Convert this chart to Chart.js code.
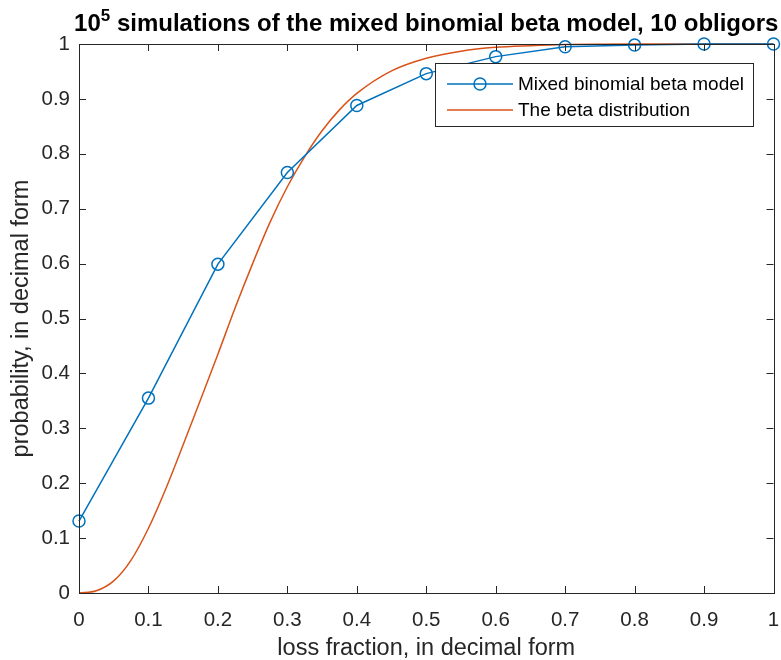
<!DOCTYPE html>
<html>
<head>
<meta charset="utf-8">
<script src="https://cdn.jsdelivr.net/npm/chart.js@4.4.1/dist/chart.umd.min.js"></script>
<style>
  html, body { margin: 0; padding: 0; background: #fff; }
  #wrap { width: 781px; height: 660px; }
</style>
</head>
<body>
<div id="wrap"><canvas id="lossChart" width="781" height="660"></canvas></div>
<script>
// Simulated loss distribution
const lossFraction = [0, 0.1, 0.2, 0.3, 0.4, 0.5, 0.6, 0.7, 0.8, 0.9, 1];
const mixedModel = [0.131, 0.355, 0.599, 0.766, 0.888, 0.946, 0.977, 0.995, 0.998, 1.0, 1.0];

// Beta distribution curve, sampled from the figure
const betaX = [0, 0.025, 0.05, 0.075, 0.1, 0.125, 0.15, 0.175, 0.2, 0.225, 0.25, 0.275, 0.3,
    0.325, 0.35, 0.375, 0.4, 0.45, 0.5, 0.55, 0.6, 0.65, 0.7, 0.8, 0.9, 1];
const betaCdf = [0, 0.004, 0.022, 0.06, 0.118, 0.19, 0.27, 0.352, 0.435, 0.52, 0.6, 0.675, 0.74,
    0.795, 0.842, 0.88, 0.91, 0.951, 0.974, 0.987, 0.994, 0.997, 0.999, 1.0, 1.0, 1.0];

const xTicks = [0, 0.1, 0.2, 0.3, 0.4, 0.5, 0.6, 0.7, 0.8, 0.9, 1];
const yTicks = [0, 0.1, 0.2, 0.3, 0.4, 0.5, 0.6, 0.7, 0.8, 0.9, 1];

const seriesNames = ['Mixed binomial beta model', 'The beta distribution'];
const seriesColors = ['#0072BD', '#D95319'];
const axisColor = '#262626';
const fontFamily = '"Liberation Sans", Arial, Helvetica, sans-serif';

// Box around the axes with inward ticks, MATLAB style
const axesBox = {
    id: 'axesBox',
    afterDatasetsDraw(chart) {
        const { ctx, chartArea: a, scales } = chart;
        const tl = 7;
        ctx.save();
        ctx.strokeStyle = axisColor;
        ctx.lineWidth = 1;
        ctx.beginPath();
        xTicks.forEach(v => {
            const x = Math.round(scales.x.getPixelForValue(v)) + 0.5;
            ctx.moveTo(x, a.bottom); ctx.lineTo(x, a.bottom - tl);
            ctx.moveTo(x, a.top); ctx.lineTo(x, a.top + tl);
        });
        yTicks.forEach(v => {
            const y = Math.round(scales.y.getPixelForValue(v)) + 0.5;
            ctx.moveTo(a.left, y); ctx.lineTo(a.left + tl, y);
            ctx.moveTo(a.right, y); ctx.lineTo(a.right - tl, y);
        });
        ctx.stroke();
        ctx.strokeRect(Math.round(a.left) + 0.5, Math.round(a.top) + 0.5,
            Math.round(a.right - a.left), Math.round(a.bottom - a.top));
        ctx.restore();
    }
};

// Title with superscript exponent
const titlePlugin = {
    id: 'supTitle',
    afterDraw(chart) {
        const { ctx, chartArea: a } = chart;
        const base = '10', sup = '5', rest = ' simulations of the mixed binomial beta model, 10 obligors';
        const big = 'bold 24px ' + fontFamily, small = 'bold 17px ' + fontFamily;
        ctx.save();
        ctx.fillStyle = '#000';
        ctx.textBaseline = 'alphabetic';
        ctx.font = big;
        const wBase = ctx.measureText(base).width, wRest = ctx.measureText(rest).width;
        ctx.font = small;
        const wSup = ctx.measureText(sup).width;
        let x = (a.left + a.right) / 2 - (wBase + wSup + wRest) / 2;
        const y = 31;
        ctx.textAlign = 'left';
        ctx.font = big; ctx.fillText(base, x, y); x += wBase;
        ctx.font = small; ctx.fillText(sup, x, y - 10); x += wSup;
        ctx.font = big; ctx.fillText(rest, x, y);
        ctx.restore();
    }
};

// Legend box inside the axes
const legendPlugin = {
    id: 'boxLegend',
    afterDraw(chart) {
        const { ctx } = chart;
        const bx = 435, by = 63, bw = 318, bh = 63;
        ctx.save();
        ctx.fillStyle = '#fff';
        ctx.fillRect(bx, by, bw, bh);
        ctx.strokeStyle = axisColor;
        ctx.lineWidth = 1;
        ctx.strokeRect(bx + 0.5, by + 0.5, bw, bh);
        const rows = [84, 110];
        ctx.font = '19px ' + fontFamily;
        ctx.textBaseline = 'middle';
        ctx.textAlign = 'left';
        rows.forEach((ry, i) => {
            ctx.strokeStyle = seriesColors[i];
            ctx.lineWidth = 1.5;
            ctx.beginPath();
            ctx.moveTo(447, ry); ctx.lineTo(513, ry);
            ctx.stroke();
            if (i === 0) {
                ctx.beginPath();
                ctx.arc(480, ry, 6, 0, Math.PI * 2);
                ctx.stroke();
            }
            ctx.fillStyle = '#000';
            ctx.fillText(seriesNames[i], 518, ry + 1);
        });
        ctx.restore();
    }
};

const tickFont = { family: fontFamily, size: 20.5 };
const labelFont = { family: fontFamily, size: 23.5, lineHeight: 1 };

new Chart(document.getElementById('lossChart'), {
    type: 'line',
    data: {
        datasets: [
            {
                label: seriesNames[0],
                data: lossFraction.map((x, i) => ({ x: x, y: mixedModel[i] })),
                borderColor: seriesColors[0],
                backgroundColor: 'rgba(0,0,0,0)',
                borderWidth: 1.5,
                pointStyle: 'circle',
                pointRadius: 6,
                pointBorderWidth: 1.5,
                pointBorderColor: seriesColors[0],
                tension: 0,
                clip: false
            },
            {
                label: seriesNames[1],
                data: betaX.map((x, i) => ({ x: x, y: betaCdf[i] })),
                borderColor: seriesColors[1],
                borderWidth: 1.5,
                pointRadius: 0,
                cubicInterpolationMode: 'monotone',
                clip: false
            }
        ]
    },
    options: {
        responsive: false,
        devicePixelRatio: 1,
        animation: false,
        layout: { padding: { top: 44, right: 5, left: 0, bottom: 0 } },
        plugins: {
            legend: { display: false },
            title: { display: false },
            tooltip: { enabled: false }
        },
        scales: {
            x: {
                type: 'linear',
                min: 0,
                max: 1,
                afterBuildTicks: s => { s.ticks = xTicks.map(v => ({ value: v })); },
                afterFit: s => { s.height = 67; s.paddingLeft = 0; s.paddingRight = 0; },
                grid: { display: false, drawTicks: false },
                border: { display: false },
                ticks: {
                    font: tickFont,
                    color: axisColor,
                    padding: 15,
                    maxRotation: 0,
                    callback: v => String(Math.round(v * 10) / 10)
                },
                title: {
                    display: true,
                    text: 'loss fraction, in decimal form',
                    font: labelFont,
                    color: axisColor,
                    padding: { top: 0, bottom: 0 }
                }
            },
            y: {
                type: 'linear',
                min: 0,
                max: 1,
                afterBuildTicks: s => { s.ticks = yTicks.map(v => ({ value: v })); },
                afterFit: s => { s.width = 79; s.paddingTop = 0; s.paddingBottom = 0; },
                grid: { display: false, drawTicks: false },
                border: { display: false },
                ticks: {
                    font: tickFont,
                    color: axisColor,
                    padding: 9,
                    callback: v => String(Math.round(v * 10) / 10)
                },
                title: {
                    display: true,
                    text: 'probability, in decimal form',
                    font: labelFont,
                    color: axisColor,
                    padding: { top: 10, bottom: 0 }
                }
            }
        }
    },
    plugins: [axesBox, titlePlugin, legendPlugin]
});
</script>
</body>
</html>
